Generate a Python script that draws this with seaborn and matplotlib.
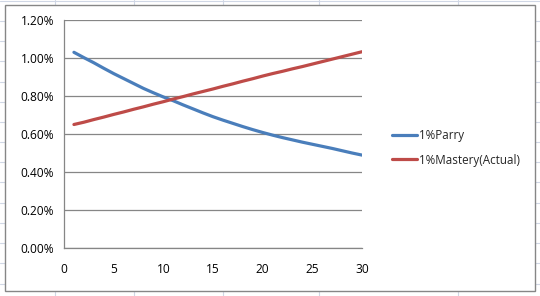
import matplotlib
matplotlib.use("Agg")
import matplotlib.pyplot as plt
from matplotlib.lines import Line2D
from matplotlib.patches import Rectangle
import seaborn as sns
import pandas as pd

x_vals = list(range(1, 31))
parry = [1.030, 1.002, 0.975, 0.946, 0.918, 0.892, 0.866, 0.840, 0.817, 0.795,
         0.775, 0.753, 0.732, 0.711, 0.691, 0.673, 0.656, 0.639, 0.623, 0.608,
         0.594, 0.581, 0.569, 0.557, 0.546, 0.535, 0.524, 0.512, 0.500, 0.489]
mastery = [0.650, 0.662, 0.676, 0.689, 0.703, 0.716, 0.730, 0.743, 0.757, 0.770,
           0.784, 0.797, 0.811, 0.824, 0.837, 0.851, 0.864, 0.878, 0.891, 0.905,
           0.918, 0.930, 0.943, 0.955, 0.968, 0.981, 0.994, 1.007, 1.020, 1.033]
series_names = ["1%Parry", "1%Mastery(Actual)"]
colors = ["#4A7EBB", "#BE4B48"]
y_ticks = [0.0, 0.2, 0.4, 0.6, 0.8, 1.0, 1.2]
x_ticks = [0, 5, 10, 15, 20, 25, 30]

df = pd.DataFrame({
    "x": x_vals * 2,
    "value": parry + mastery,
    "series": [series_names[0]] * len(x_vals) + [series_names[1]] * len(x_vals),
})

sns.set_theme(style="white")
plt.rcParams["font.family"] = ["Open Sans", "DejaVu Sans"]

W, H = 540, 296
fig = plt.figure(figsize=(W / 100, H / 100), dpi=100)
fig.patch.set_facecolor("white")

# spreadsheet cell lines in the background
cell_col = "#D0D7E5"
for xv in [55, 134, 223, 319, 458]:
    fig.add_artist(Line2D([xv / W, xv / W], [0, 1], color=cell_col, lw=0.8, zorder=0))
for k in range(0, 16):
    yv = 0.7 + 20.2 * k
    fig.add_artist(Line2D([0, 1], [1 - yv / H, 1 - yv / H], color=cell_col, lw=0.8, zorder=0))

# chart area
fig.add_artist(Rectangle((5 / W, 1 - 291 / H), 530 / W, 286 / H, transform=fig.transFigure,
                         facecolor="white", edgecolor="#868686", lw=1.0, zorder=1))

ax = fig.add_axes([64 / W, 1 - 248 / H, (362 - 64) / W, (248 - 20) / H])
ax.set_zorder(2)
ax.patch.set_alpha(0)

sns.lineplot(data=df, x="x", y="value", hue="series", palette=colors,
             hue_order=series_names, linewidth=2.3, ax=ax, legend=False)

ax.set_xlim(0, 30)
ax.set_ylim(0, 1.2)
ax.set_xticks(x_ticks)
ax.set_yticks(y_ticks)
ax.set_yticklabels([f"{v:.2f}%" for v in y_ticks])
ax.set_xlabel("")
ax.set_ylabel("")
ax.yaxis.grid(True, color="#868686", lw=0.9)
ax.xaxis.grid(False)
for s in ["top", "right"]:
    ax.spines[s].set_visible(False)
for s in ["left", "bottom"]:
    ax.spines[s].set_color("#868686")
    ax.spines[s].set_linewidth(0.9)
ax.tick_params(axis="both", direction="out", length=4, width=0.9, color="#868686",
               labelsize=8.6, labelcolor="black")
ax.tick_params(axis="x", pad=7)
ax.tick_params(axis="y", pad=3)

handles = [Line2D([], [], color=c, lw=2.3) for c in colors]
fig.legend(handles, series_names, loc="center left", bbox_to_anchor=(381 / W, 1 - 148 / H),
           frameon=False, fontsize=8.4, handlelength=2.2, handletextpad=0.2,
           labelspacing=0.95)

fig.savefig("out.png", dpi=100, facecolor="white")
